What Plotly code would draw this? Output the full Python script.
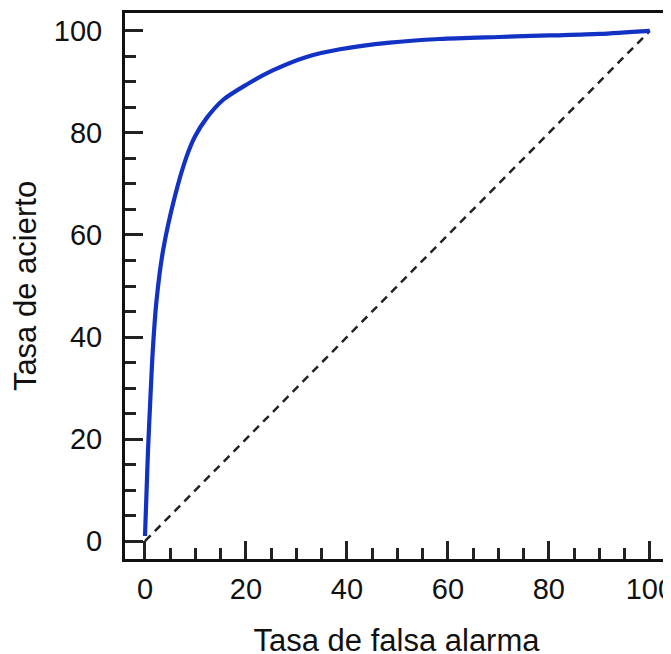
import plotly.graph_objects as go

# ROC curve values
fpr = [0, 0.25, 0.6, 1.05, 1.55, 2.3, 3.6, 5.9, 8.25, 9.9, 12.2, 15.5, 20.0, 25.4, 32.0, 38.6, 48.5, 58.4, 70, 80, 90, 100]
tpr = [1, 8.0, 17.8, 27.6, 37.5, 47.3, 57.1, 67.5, 75.4, 79.3, 82.9, 86.5, 89.4, 92.3, 94.9, 96.4, 97.7, 98.4, 98.8, 99.1, 99.4, 100]

# chance diagonal
diag_x = [0, 100]
diag_y = [0, 100]

tick_vals = [0, 20, 40, 60, 80, 100]
tick_text = ["0", "20", "40", "60", "80", "100"]

x_title = "Tasa de falsa alarma"
y_title = "Tasa de acierto"

FONT = "Liberation Sans, Arial, sans-serif"

fig = go.Figure()
fig.add_trace(go.Scatter(x=diag_x, y=diag_y, mode="lines",
                         line=dict(color="#222222", width=2.5, dash="8px,6px"),
                         hoverinfo="skip", showlegend=False))
fig.add_trace(go.Scatter(x=fpr, y=tpr, mode="lines",
                         line=dict(color="#1232c4", width=4.2, shape="spline", smoothing=0.8),
                         hoverinfo="skip", showlegend=False))

axis_common = dict(
    showline=True, linewidth=3, linecolor="#111111", mirror=True,
    showgrid=False, zeroline=False, automargin=False,
    ticks="inside", ticklen=18, tickwidth=3, tickcolor="#222222",
    tickvals=tick_vals, ticktext=tick_text, ticklabeloverflow="allow",
    tickfont=dict(family=FONT, size=29, color="#111111"),
    minor=dict(ticks="inside", ticklen=11, tickwidth=3, tickcolor="#222222", dtick=5, tick0=0, showgrid=False),
)

fig.update_xaxes(range=[-3.96, 103.6], ticklabelstandoff=2,
                 title=dict(text=x_title, standoff=26,
                            font=dict(family=FONT, size=31, color="#111111")),
                 **axis_common)
fig.update_yaxes(range=[-3.5, 103.5], ticklabelstandoff=14,
                 title=dict(text=y_title, standoff=12,
                            font=dict(family=FONT, size=31, color="#111111")),
                 **axis_common)

# page has an 8px body margin, so margins are compensated
fig.update_layout(
    width=671, height=654,
    margin=dict(l=117, r=11, t=5, b=103),
    paper_bgcolor="white", plot_bgcolor="white",
    showlegend=False,
)

fig.write_html("out.html")
